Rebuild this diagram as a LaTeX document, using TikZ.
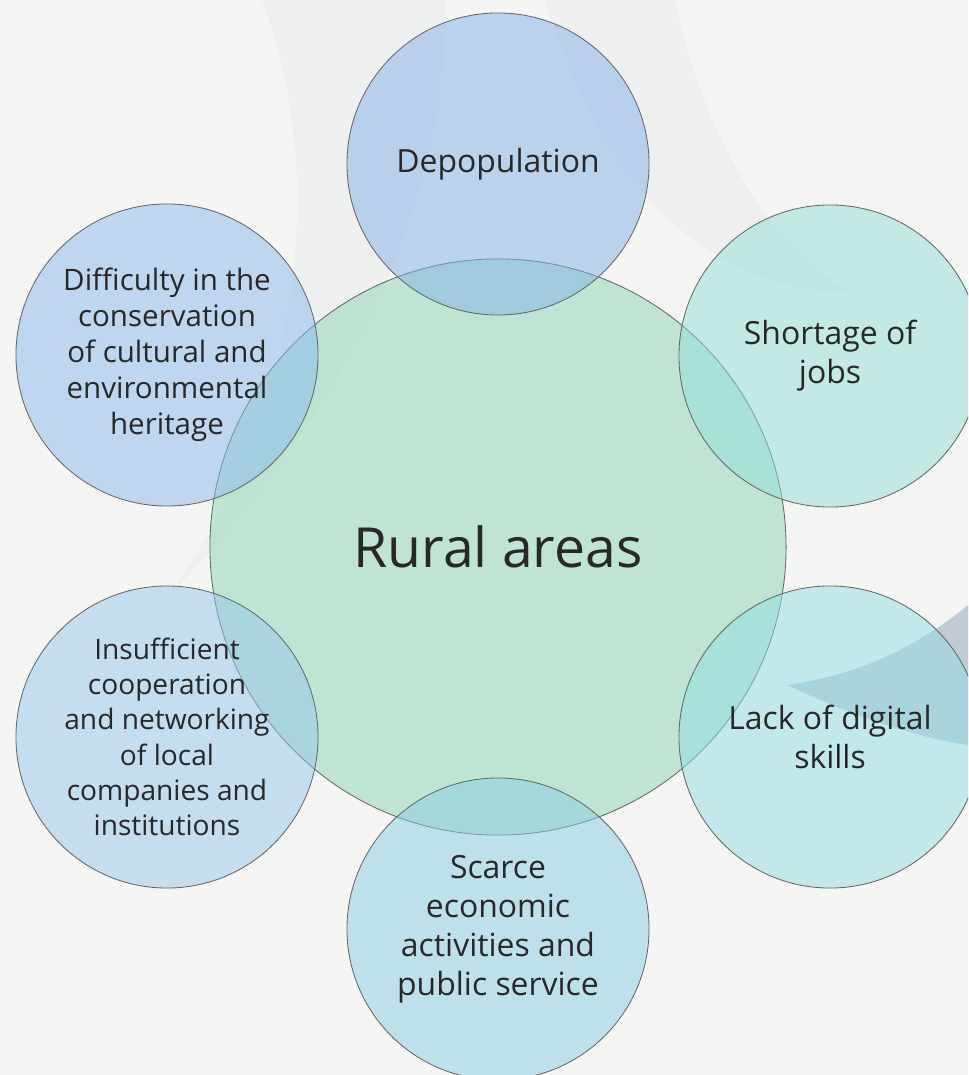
\documentclass[tikz,border=0pt]{standalone}
\usepackage{fontspec}
\setmainfont{Open Sans}
\definecolor{BG}{RGB}{245,245,244}
\definecolor{SW}{RGB}{238,240,239}
\definecolor{SB}{RGB}{194,203,210}
\definecolor{TXT}{RGB}{40,40,40}
\definecolor{CG}{RGB}{141,213,182}
\definecolor{C1}{RGB}{131,177,232}
\definecolor{C2}{RGB}{145,223,214}
\definecolor{C3}{RGB}{145,221,228}
\definecolor{C4}{RGB}{137,205,226}
\definecolor{C5}{RGB}{149,199,236}
\definecolor{C6}{RGB}{139,185,238}
\tikzset{
    CC/.style ={circle, minimum size=14.4cm, inner sep=0pt, draw=black!60, line width=0.6pt, fill=CG, fill opacity=0.5, text opacity=1, text=TXT, font=\fontsize{39.3}{44}\selectfont},
    CS/.style ={circle, minimum size=7.55cm, inner sep=0pt, draw=black!60, line width=0.6pt, fill opacity=0.5, text opacity=1, text=TXT, align=center, font=\fontsize{22.7}{27.7}\selectfont},
    TS1/.style ={font=\fontsize{21}{25.6}\selectfont},
    TS2/.style ={font=\fontsize{20}{25.1}\selectfont}}

\begin{document}
\begin{tikzpicture}[x=0.025cm,y=-0.025cm]
        \useasboundingbox (0,0) rectangle (968,1075);
        \clip (0,0) rectangle (968,1075);
        \fill[BG] (0,0) rectangle (968,1075);
        % background swooshes
        \fill[SW] (262,0) .. controls (330,180) and (300,420) .. (165,600)
            .. controls (330,430) and (450,220) .. (445,0) -- cycle;
        \fill[SW] (545,0) .. controls (600,180) and (700,290) .. (850,292)
            .. controls (760,240) and (700,120) .. (675,0) -- cycle;
        \fill[SB] (787,685) .. controls (860,675) and (920,645) .. (968,605)
            -- (968,745) .. controls (900,735) and (830,705) .. (787,685) -- cycle;
        % circles
        \node[CC] (R) at (498,547){Rural areas};
        \node[CS,fill=C1] (1) at (498,164){Depopulation};
        \node[CS,fill=C2] (2) at (830,356){Shortage of\\jobs};
        \node[CS,fill=C3] (3) at (830,737){Lack of digital\\skills};
        \node[CS,fill=C4] (4) at (498,929){Scarce\\economic\\activities and\\public service};
        \node[CS,fill=C5,TS2] (5) at (167,737){Insufficient\\cooperation\\and networking\\of local\\companies and\\institutions};
        \node[CS,fill=C6,TS1] (6) at (167,355){Difficulty in the\\conservation\\of cultural and\\environmental\\heritage};
    \end{tikzpicture}
\end{document}
